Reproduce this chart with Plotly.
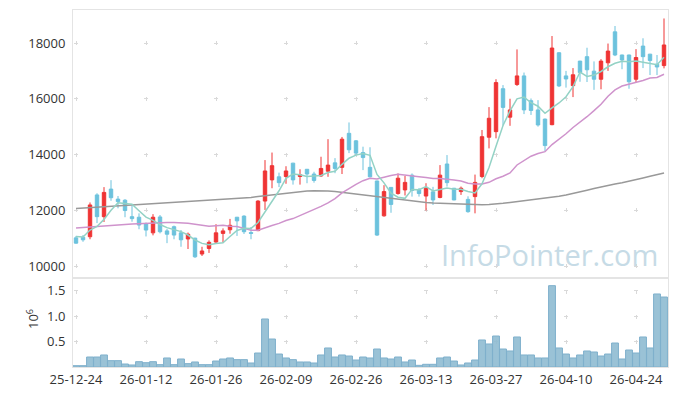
import plotly.graph_objects as go
import pandas as pd

tick_idx = [0, 10, 20, 30, 40, 50, 60, 70, 80]
tick_labels = ["25-12-24", "26-01-12", "26-01-26", "26-02-09", "26-02-26",
               "26-03-13", "26-03-27", "26-04-10", "26-04-24"]
price_ticks = [10000, 12000, 14000, 16000, 18000]
vol_ticks = [500000, 1000000, 1500000]
vol_tick_labels = ["0.5", "1.0", "1.5"]

open_ = [11010, 11030, 11050, 12550, 11770, 12760, 12400, 12360, 11770, 11750,
         11510, 11190, 11760, 11260, 11410, 11190, 10970, 11000, 10430, 10630,
         10860, 11170, 11300, 11750, 11790, 11200, 11270, 12330, 13090, 13200,
         13210, 13690, 13210, 13470, 13300, 13230, 13400, 13700, 13540, 14760,
         14490, 14070, 13540, 13050, 11800, 12820, 12600, 12730, 13260, 12730,
         12510, 12660, 12460, 13660, 12790, 12670, 12390, 12490, 13210, 14620,
         14820, 16360, 15340, 16510, 16820, 15930, 15600, 15270, 15070, 17650,
         16820, 16470, 17350, 17510, 16990, 16700, 17290, 18400, 17570, 17570,
         16700, 17890, 17600, 17240, 17190]
high = [11080, 11110, 12280, 12610, 12830, 13080, 12510, 12400, 12160, 11890,
        11560, 11860, 11830, 11330, 11450, 11290, 11200, 11010, 10690, 10920,
        11500, 11350, 11690, 11760, 11820, 11400, 12360, 13800, 14070, 13350,
        13580, 13700, 13470, 13480, 13380, 13920, 14550, 13870, 14630, 15150,
        14520, 14280, 14260, 13060, 12900, 12830, 13320, 13230, 13320, 12800,
        12970, 12840, 13620, 13980, 12800, 12850, 12500, 13280, 14880, 15700,
        16700, 16490, 16000, 17770, 16940, 16010, 15950, 15290, 18250, 17670,
        17000, 17100, 17360, 17830, 17340, 17420, 17980, 18610, 17580, 17580,
        17780, 18170, 17610, 17570, 18880]
low = [10800, 10870, 10960, 11540, 11580, 12340, 12070, 11750, 11590, 11320,
       11060, 11100, 11170, 10820, 10960, 10690, 10610, 10290, 10360, 10470,
       10790, 10840, 11160, 11080, 11150, 10960, 11250, 12010, 12790, 12830,
       12950, 12920, 12920, 12970, 12990, 13200, 13200, 13330, 13300, 14050,
       13980, 13440, 13180, 11080, 11770, 11910, 12560, 12530, 12490, 12490,
       11990, 12190, 12430, 12850, 12360, 12550, 11910, 11890, 13150, 14220,
       14580, 15040, 15030, 16460, 15450, 15420, 15000, 14120, 15050, 16420,
       16400, 16060, 16610, 16600, 16320, 16340, 17000, 17530, 17060, 16360,
       16580, 17100, 16850, 16850, 17090]
close = [10820, 10940, 12190, 11770, 12640, 12450, 12310, 11990, 11700, 11470,
         11290, 11750, 11230, 11140, 11110, 10940, 11140, 10330, 10540, 10850,
         11190, 11260, 11460, 11620, 11230, 11170, 12330, 13410, 13600, 12990,
         13410, 13090, 13270, 13300, 13070, 13500, 13620, 13500, 14550, 14170,
         14050, 13890, 13200, 11110, 12670, 12210, 13150, 13000, 12710, 12600,
         12790, 12370, 13260, 12990, 12370, 12790, 11950, 13000, 14640, 15300,
         16580, 15690, 15600, 16820, 15600, 15580, 15060, 14320, 17820, 16460,
         16710, 16860, 16940, 17040, 16700, 17350, 17710, 17570, 17390, 16610,
         17480, 17510, 17370, 17140, 17930]
volume = [26000, 26000, 197000, 197000, 237000, 125000, 125000, 59000, 40000, 105000,
          85000, 105000, 46000, 178000, 46000, 158000, 66000, 99000, 46000, 46000,
          118000, 158000, 178000, 145000, 145000, 79000, 276000, 947000, 552000, 256000,
          178000, 145000, 99000, 99000, 79000, 237000, 375000, 197000, 237000, 217000,
          138000, 197000, 178000, 355000, 178000, 158000, 197000, 99000, 138000, 33000,
          53000, 53000, 178000, 197000, 118000, 40000, 79000, 138000, 533000, 454000,
          611000, 355000, 316000, 592000, 237000, 237000, 178000, 178000, 1604000, 375000,
          256000, 178000, 237000, 316000, 296000, 217000, 256000, 473000, 158000, 335000,
          276000, 592000, 375000, 1440000, 1380000]
ma5_head = [11060, 11040, 11290, 11420]
ma20_head = [11360, 11375, 11390, 11410, 11430, 11450, 11470, 11490, 11510, 11525,
             11540, 11550, 11555, 11560, 11560, 11555, 11530, 11500, 11470]
ma_long = [12060, 12075, 12090, 12105, 12120, 12135, 12150, 12165, 12180, 12195,
           12210, 12225, 12240, 12255, 12270, 12285, 12300, 12315, 12330, 12345,
           12360, 12380, 12400, 12420, 12440, 12460, 12490, 12520, 12550, 12580,
           12610, 12640, 12670, 12690, 12700, 12700, 12690, 12670, 12640, 12600,
           12560, 12530, 12500, 12480, 12450, 12420, 12390, 12360, 12330, 12300,
           12280, 12260, 12250, 12240, 12230, 12220, 12210, 12200, 12200, 12210,
           12220, 12250, 12280, 12310, 12340, 12370, 12400, 12430, 12460, 12500,
           12550, 12600, 12660, 12720, 12780, 12840, 12890, 12940, 12990, 13040,
           13100, 13160, 13220, 13280, 13340]

x = list(range(len(close)))
cs = pd.Series(close)
ma5 = ma5_head + cs.rolling(5).mean().tolist()[len(ma5_head):]
ma20 = ma20_head + cs.rolling(20).mean().tolist()[len(ma20_head):]

RED = "#ef3434"
BLUE = "#6cc2dd"

fig = go.Figure()
fig.add_trace(go.Candlestick(
    x=x, open=open_, high=high, low=low, close=close,
    increasing=dict(line=dict(color=RED, width=1), fillcolor=RED),
    decreasing=dict(line=dict(color=BLUE, width=1), fillcolor=BLUE),
    xaxis="x", yaxis="y", showlegend=False))
fig.add_trace(go.Scatter(x=x, y=ma_long, mode="lines",
                         line=dict(color="#999999", width=1.5), xaxis="x", yaxis="y"))
fig.add_trace(go.Scatter(x=x, y=ma20, mode="lines",
                         line=dict(color="#cf93cc", width=1.5), xaxis="x", yaxis="y"))
fig.add_trace(go.Scatter(x=x, y=ma5, mode="lines",
                         line=dict(color="#93d2c5", width=1.5), xaxis="x", yaxis="y"))
fig.add_trace(go.Bar(x=x, y=volume, marker=dict(color="rgba(140,185,208,0.88)",
                                                line=dict(color="#7fb0cc", width=1)),
                     xaxis="x2", yaxis="y2"))

GRID = "#d9d9d9"
LINE = "#e4e4e4"
PW, PH = 595, 357          # plot area size in px
split = (367 - 278) / PH
xr = [-0.43, 84.57]

# the page body has an 8px margin, so the figure is sized to end at the window edge
fig.update_layout(
    width=669, height=388,
    margin=dict(l=65, r=9, t=2, b=29),
    paper_bgcolor="white", plot_bgcolor="white",
    showlegend=False, bargap=0.02,
    font=dict(family="Open Sans", size=13, color="#333333"),
    xaxis=dict(domain=[0, 1], range=xr, anchor="y", tickvals=tick_idx,
               showticklabels=False, showgrid=True, gridcolor=GRID,
               griddash="0px,31px,4px,20.75px", zeroline=False,
               showline=True, mirror=True, linecolor=LINE,
               rangeslider=dict(visible=False)),
    yaxis=dict(domain=[split, 1], range=[9570, 19184], anchor="x",
               tickvals=price_ticks, ticktext=[str(v) for v in price_ticks],
               showgrid=True, gridcolor=GRID, griddash="0px,1px,4px,65px",
               zeroline=False, showline=True, mirror=True, linecolor=LINE,
               ticklabelstandoff=4),
    xaxis2=dict(domain=[0, 1], range=xr, anchor="y2", matches="x",
                tickvals=tick_idx, ticktext=tick_labels,
                showgrid=True, gridcolor=GRID, griddash="0px,11.7px,4px,9.6px",
                zeroline=False, showline=True, mirror=True, linecolor=LINE),
    yaxis2=dict(domain=[0, split], range=[0, 1755000], anchor="x2",
                tickvals=vol_ticks, ticktext=vol_tick_labels,
                showgrid=True, gridcolor=GRID, griddash="0px,1px,4px,65px",
                zeroline=False, showline=True, mirror=True, linecolor=LINE,
                ticklabelstandoff=4),
    annotations=[
        dict(text="10<sup>6</sup>", textangle=-90, xref="paper", yref="paper",
             x=(32 - 73) / PW, y=(367 - 319) / PH, xanchor="center", yanchor="middle",
             showarrow=False, font=dict(size=13, color="#333333")),
        dict(text="InfoPointer.com", xref="paper", yref="paper",
             x=(549.5 - 73) / PW, y=(367 - 254) / PH, xanchor="center", yanchor="middle",
             showarrow=False, font=dict(family="Open Sans", size=29, color="#c6dbe6")),
    ],
)

fig.write_html("out.html")
